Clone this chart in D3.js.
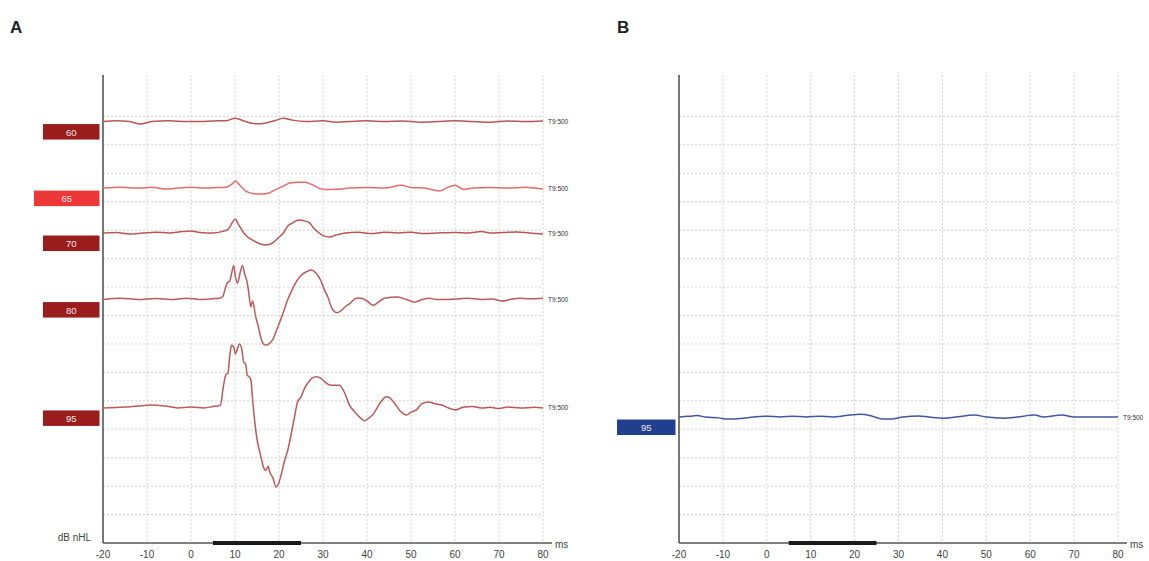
<!DOCTYPE html>
<html><head><meta charset="utf-8">
<script src="https://cdn.jsdelivr.net/npm/d3@7"></script>
<style>body{margin:0;background:#fff;} svg{display:block;font-family:Arial, "Liberation Sans", sans-serif;}</style>
</head><body><svg id="c" width="1149" height="561"></svg>
<script>
// ---------- data ----------
const xTicks = [-20,-10,0,10,20,30,40,50,60,70,80];
const stimulusBar = [5, 25];            // ms
const traceLabel = "T9:500";
// levels (dB nHL) and baseline offset (in grid divisions above the x axis)
const levelsA  = [60, 65, 70, 80, 95];
const offsetsA = [14.82, 12.48, 10.90, 8.56, 4.75];
const levelsB  = [95];
const offsetsB = [4.43];
// amplitude units: 10 units = 1 grid division; [ms, amplitude]
const trace60 = [[-20,0],[-17,0.3],[-14,0],[-11.5,-0.9],[-9,0],[-5,0.3],[-1,0],[2,0],[5,0.2],[8,0.3],[10.1,1.2],[12,0.2],[13.5,-0.5],[15.2,-0.8],[17,-0.5],[19,0.3],[21,1.2],[23,0.5],[26,0],[30,0.3],[33,-0.2],[36,0],[40,0.3],[44,0],[48,0.2],[52,-0.2],[56,0],[60,0.3],[64,0],[68,-0.2],[72,0.2],[76,0],[80,0.2]];
const trace65 = [[-20,0],[-16,0.3],[-12,0],[-9,0.3],[-6,-0.3],[-3,0],[0,0.3],[3,0],[6,0.2],[8,0.3],[9.3,1.4],[10.1,2.5],[11,1.2],[12,-0.5],[12.9,-1.4],[14.5,-2],[15.8,-2.1],[17.5,-1.8],[19,-0.7],[21,0.7],[22.5,1.8],[24.3,2.1],[26,2.1],[27.5,1.2],[29,0],[30.5,-0.5],[33,-0.4],[36,0],[40,0.2],[44,0],[47.8,1],[50,0.2],[53,0],[56.5,-1],[58,0],[60,1],[62,-0.5],[64,0],[68,0.2],[72,0],[76,0.3],[78,0],[80,-0.3]];
const trace70 = [[-20,0],[-17,0.2],[-14,-0.3],[-11,0],[-8,0.3],[-5,0],[-2,0.5],[0,0.7],[2,0.2],[5,0],[7,0.5],[8.5,1.4],[9.3,3.5],[10.1,4.9],[10.7,3.2],[11.3,1.8],[12,0],[12.9,-1.4],[14,-2.5],[15.2,-3.5],[17,-4.2],[18.5,-3.5],[20,-1.5],[21,0],[22,2.5],[23,3.5],[24.5,4.6],[26,4.2],[27,3.5],[28,1.5],[28.8,0.4],[30,-0.9],[31.5,-1.4],[33,-0.7],[35,0],[38,0.3],[41,-0.2],[44,0.3],[47,0],[50,0.3],[53,-0.2],[56,0],[60,0.2],[63,0],[66,0.5],[68,0],[71,0.2],[74,0.4],[77,0],[80,-0.3]];
const trace80 = [[-20,0],[-16,0.5],[-12,0],[-8,0.4],[-4,0],[-1,0.5],[2,0],[5,0.3],[6.5,0.5],[7.2,1],[7.8,4],[8.3,6],[8.8,6.5],[9.2,9],[9.7,12],[10.1,8],[10.6,5.8],[11.1,9],[11.7,12],[12.2,9],[12.8,5.8],[13.2,1.5],[13.6,-2.5],[14,-0.5],[14.7,-6],[15.3,-9.5],[15.8,-13],[16.4,-15.5],[17,-16],[17.8,-15.5],[18.6,-14],[19.5,-10.5],[20.4,-7],[21.2,-3.5],[22,0],[23,3.5],[23.8,6],[25,8.5],[26.1,9.7],[27.3,10.4],[28.3,9.5],[29.5,6.7],[30.3,3.5],[31.1,0.9],[32,-3],[33.2,-4.6],[34,-4],[35,-2.6],[36.4,-1],[37.5,0.5],[38.7,0.5],[40,-0.5],[41.4,-2],[42.5,-1],[44,0.5],[47,0.9],[49,0],[50.8,-0.9],[52.5,0],[54,0.5],[56,0],[58.5,0],[61,0.3],[63,0.5],[66,0],[68.5,0.2],[70.6,-0.5],[72.5,0],[74.5,0.5],[77,0.3],[80,0.5]];
const trace95 = [[-20,0],[-15,0.3],[-12,0.7],[-9,1],[-6,0.7],[-3,0],[0,0.3],[3,0],[5,0.5],[6,0.7],[6.7,1],[7.3,7],[7.9,11.6],[8.4,12.3],[8.8,18],[9.2,22],[9.7,21.5],[10.1,19],[10.5,20.5],[11,22.5],[11.5,21],[12,16],[12.4,15.5],[12.8,11.5],[13.2,11],[13.6,10],[14,3],[14.5,-5],[15,-11],[15.8,-16.5],[16.5,-21],[17,-22],[17.5,-20.5],[18,-23],[18.6,-24.5],[19.3,-27.8],[19.8,-27],[20.4,-24],[21.2,-19],[22,-14.8],[23.4,-4.2],[24.2,2],[25,3.9],[26,7.5],[26.6,8.8],[27.5,10.5],[28.5,11],[29.5,10.5],[30.5,9],[31.8,8],[33.7,8],[35,5],[36,1],[37,-1],[38.5,-3.5],[39.4,-4.5],[40.5,-3.5],[41.5,-2],[43,1.8],[44.4,3.9],[45.2,3.5],[46.2,1.8],[47.5,-1],[49,-2.5],[50,-1.5],[51.2,-0.7],[52.5,1.5],[54,2.1],[55.5,1.5],[57,1],[58.5,0],[60,-0.7],[62,0.3],[64,0.5],[66,0],[68,0.2],[70,-0.2],[72,0.3],[75,0],[78,0.2],[80,0]];
const traceB95 = [[-20,0],[-17.5,0.3],[-15.9,0.5],[-14,0],[-11,-0.3],[-8.8,-0.7],[-6,-0.5],[-3,0],[0,0.3],[3,0],[6,0.3],[9,0],[12,0.3],[15,0],[18,0.5],[21.4,1],[24,0.3],[26.5,-0.7],[28.3,-0.7],[31,0],[34.5,0.4],[37,0],[40.4,-0.4],[43,0],[47.3,0.7],[50,0],[54,-0.4],[57,0],[61,0.7],[63,0],[67.2,0.7],[70,0],[75,0],[80,0]];

const tracesA = [trace60, trace65, trace70, trace80, trace95];
const tracesB = [traceB95];

// ---------- drawing ----------
const svg = d3.select("#c");
const yScale = d3.scaleLinear().domain([0, 16]).range([543, 88]);
const gridRows = d3.range(0, 16);

function panel(opt) {
  const x = d3.scaleLinear().domain([-20, 80]).range([opt.x0, opt.x1]);
  const g = svg.append("g");
  svg.append("text").attr("x", opt.letterX).attr("y", 33).text(opt.letter)
    .attr("font-size", 17).attr("font-weight", "bold").attr("fill", "#222");
  // grid
  g.selectAll("line.h").data(gridRows.filter(d => d > 0)).join("line")
    .attr("x1", opt.x0).attr("x2", opt.x1).attr("y1", d => yScale(d)).attr("y2", d => yScale(d))
    .attr("stroke", "#d2d2d2").attr("stroke-dasharray", "2,2").attr("stroke-width", 1);
  g.selectAll("line.v").data(xTicks.slice(1)).join("line")
    .attr("x1", d => x(d)).attr("x2", d => x(d)).attr("y1", 75).attr("y2", 543)
    .attr("stroke", "#d2d2d2").attr("stroke-dasharray", "2,2").attr("stroke-width", 1);
  // axes
  g.append("line").attr("x1", opt.x0).attr("x2", opt.x0).attr("y1", 75).attr("y2", 543)
    .attr("stroke", "#555").attr("stroke-width", 1.6);
  g.append("line").attr("x1", opt.x0).attr("x2", opt.x1 + 9).attr("y1", 543).attr("y2", 543)
    .attr("stroke", "#555").attr("stroke-width", 1.6);
  g.append("line").attr("x1", x(stimulusBar[0])).attr("x2", x(stimulusBar[1])).attr("y1", 543).attr("y2", 543)
    .attr("stroke", "#1a1a1a").attr("stroke-width", 4);
  // tick labels
  g.selectAll("text.tick").data(xTicks).join("text")
    .attr("x", d => x(d)).attr("y", 558).attr("text-anchor", "middle")
    .attr("font-size", 10).attr("fill", "#444").text(d => d);
  g.append("text").attr("x", opt.x1 + 12).attr("y", 548).attr("font-size", 10).attr("fill", "#444").text("ms");
  if (opt.yLabel) {
    g.append("text").attr("x", 91).attr("y", 541).attr("text-anchor", "end")
      .attr("font-size", 10).attr("fill", "#444").text(opt.yLabel);
  }
  // traces
  const line = d3.line().x(d => x(d[0])).curve(d3.curveMonotoneX);
  opt.traces.forEach((tr, i) => {
    const off = opt.offsets[i];
    line.y(d => yScale(off + d[1] / 10));
    g.append("path").attr("d", line(tr)).attr("fill", "none")
      .attr("stroke", opt.lineColors[i]).attr("stroke-width", 1.5).attr("stroke-linejoin", "round");
    const by = yScale(off);
    g.append("text").attr("x", opt.x1 + 5).attr("y", by + 2.5).attr("font-size", 6.5)
      .attr("fill", "#333").text(traceLabel);
    const bx0 = opt.boxX0[i];
    g.append("rect").attr("x", bx0).attr("y", by + 2.5).attr("width", opt.x0 - 3.5 - bx0).attr("height", 15.5)
      .attr("fill", opt.boxColors[i]);
    g.append("text").attr("x", (bx0 + opt.x0 - 3.5) / 2).attr("y", by + 14).attr("text-anchor", "middle")
      .attr("font-size", 9.5).attr("fill", "#f3e6e6").text(opt.levels[i]);
  });
}

const dark = "#9a1c1c", bright = "#ee3838";
panel({
  letter: "A", letterX: 10, x0: 103, x1: 543, yLabel: "dB nHL",
  levels: levelsA, offsets: offsetsA, traces: tracesA,
  lineColors: ["#b85656", "#e56a6a", "#b85656", "#bb5a5a", "#bb5a5a"],
  boxColors: [dark, bright, dark, dark, dark],
  boxX0: [43, 34, 43, 43, 43]
});
panel({
  letter: "B", letterX: 617, x0: 679, x1: 1118, yLabel: null,
  levels: levelsB, offsets: offsetsB, traces: tracesB,
  lineColors: ["#4355a3"],
  boxColors: ["#213f8e"],
  boxX0: [617]
});
</script></body></html>
